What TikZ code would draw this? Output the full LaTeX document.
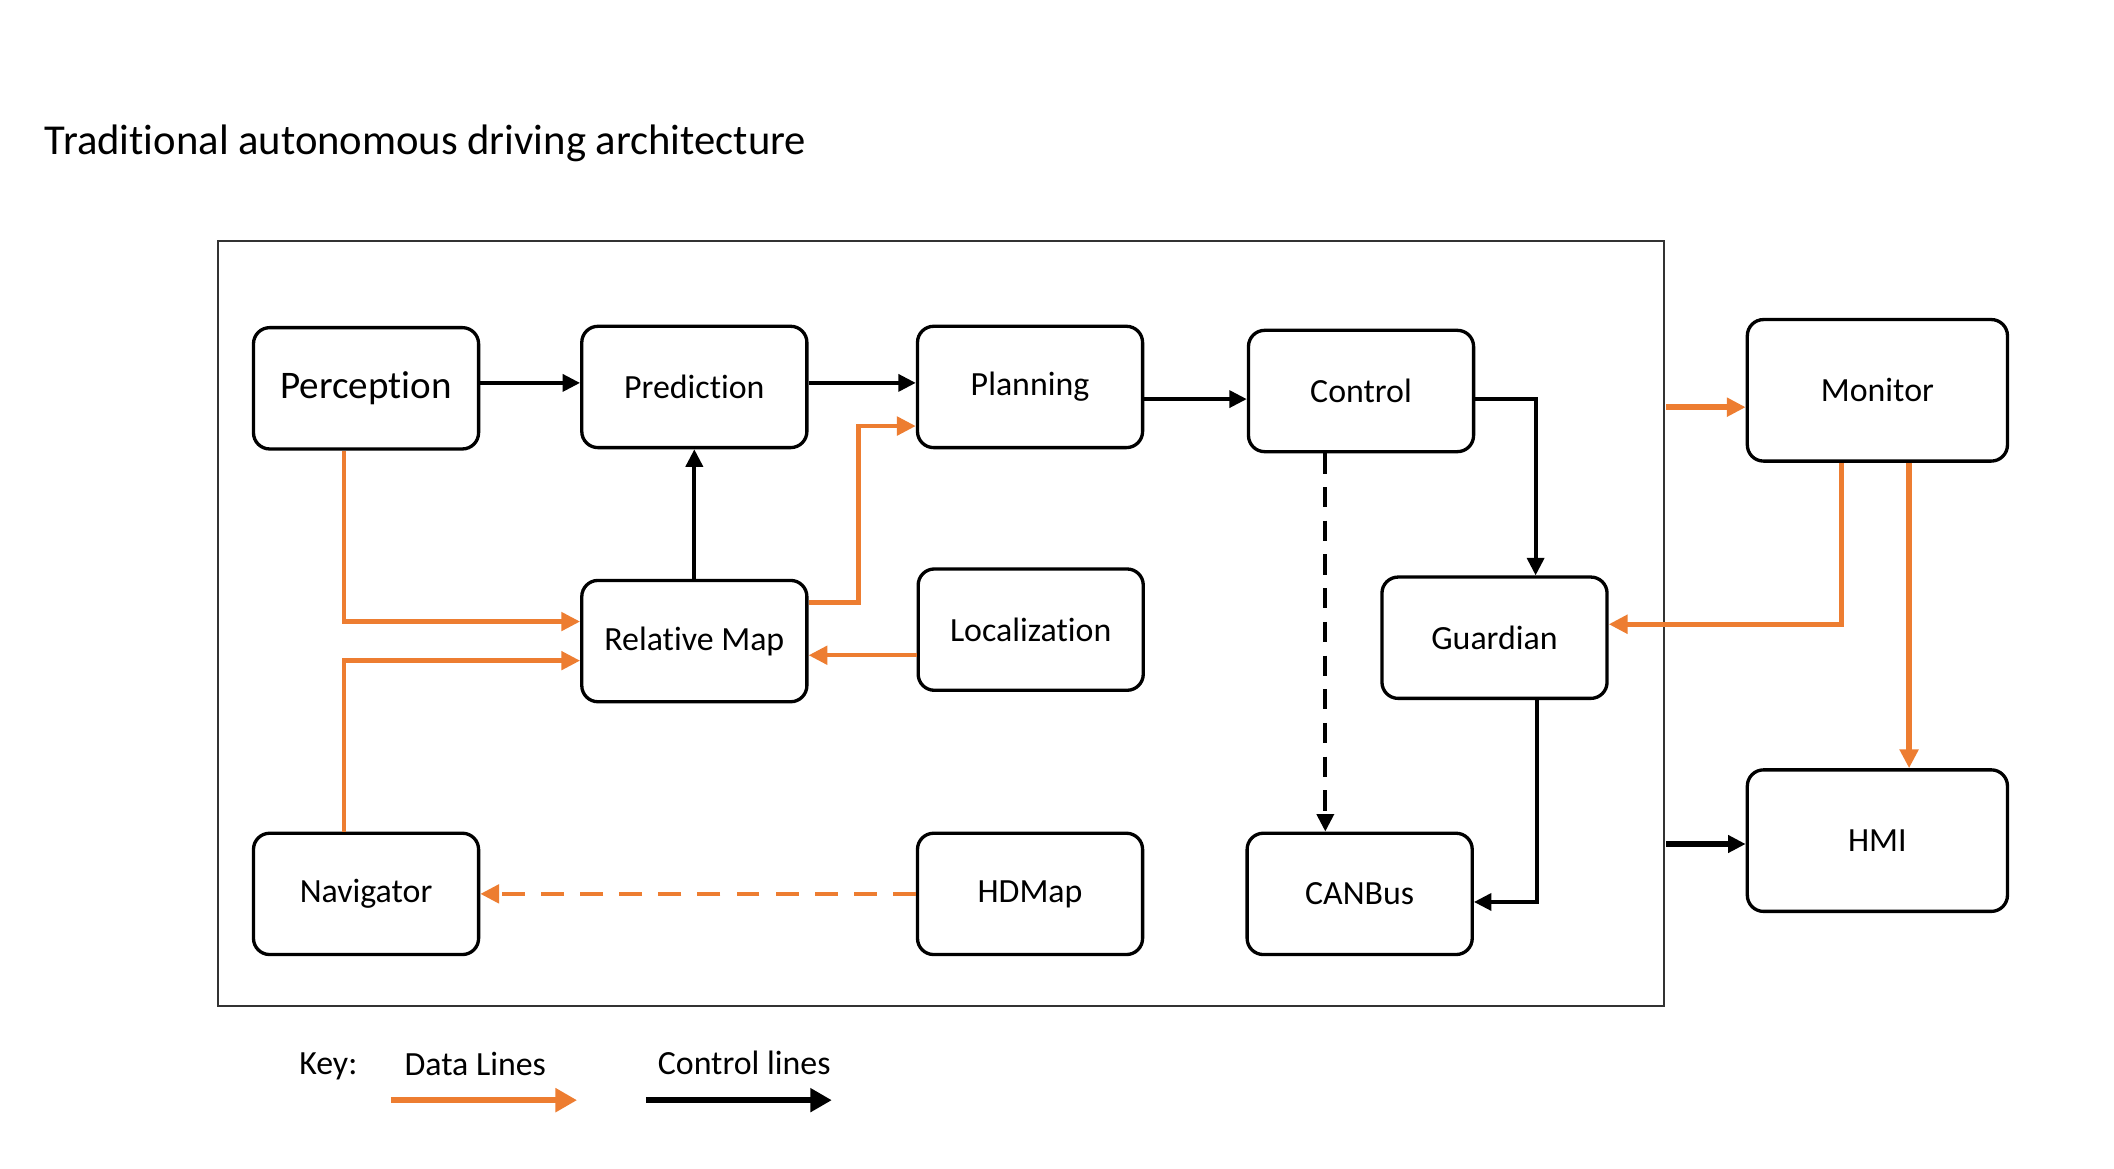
\documentclass[tikz,border=0pt]{standalone}
\usepackage{fontspec}
\setmainfont{Carlito}[Ligatures=NoCommon]
\usepackage{tikz}
\usepackage{xcolor}
\usetikzlibrary{arrows.meta}
\definecolor{dataorange}{HTML}{ED7D31}
% keeps Carlito from joining "ti"
\newcommand{\nolig}{\kern0pt{}}

\begin{document}
\begin{tikzpicture}[x=0.02cm,y=-0.02cm,
  blk/.style={draw=black,line width=1.4pt,rounded corners=0.24cm,fill=white,
    minimum width=3.34cm,minimum height=1.8cm,font=\fontsize{14.3}{17}\selectfont},
  bigblk/.style={blk,minimum width=3.86cm,minimum height=2.1cm},
  ctl/.style={draw=black,line width=1.7pt,-{Triangle[length=0.26cm,width=0.25cm]}},
  dat/.style={draw=dataorange,line width=1.9pt,-{Triangle[length=0.28cm,width=0.27cm]}},
  lbl/.style={font=\fontsize{14.3}{17}\selectfont,inner sep=0pt}]
\useasboundingbox (0,0) rectangle (1568,867);
\fill[white] (0,0) rectangle (1568,867);

% title and frame
\node[anchor=west,inner sep=0pt,font=\fontsize{18}{21}\selectfont] (title) at (33,106) {Tradit\nolig ional autonomous driving architecture};
\draw[line width=0.85pt,black!80] (162,179) rectangle (1234,746);

% blocks
\node[blk,font=\fontsize{16.5}{19}\selectfont] (perc) at (271.5,288) {Percept\nolig ion};
\node[blk] (pred) at (515,287) {Predict\nolig ion};
\node[blk] (plan) at (764,287) {Planning};
\node[blk] (ctrl) at (1009.5,290) {Control};
\node[blk] (relmap) at (515,475.5) {Relat\nolig ive Map};
\node[blk] (loc) at (764.5,467) {Localizat\nolig ion};
\node[blk] (guard) at (1108.5,473) {Guardian};
\node[blk] (nav) at (271.5,663) {Navigator};
\node[blk] (hdmap) at (764,663) {HDMap};
\node[blk] (canbus) at (1008.5,663) {CANBus};
\node[bigblk] (mon) at (1392.5,289.5) {Monitor};
\node[bigblk] (hmi) at (1392.5,623.5) {HMI};

% control lines
\draw[ctl] ([yshift=0.08cm]perc.east) -- ([yshift=0.08cm]perc.east -| pred.west);
\draw[ctl] ([yshift=0.06cm]pred.east) -- ([yshift=0.06cm]pred.east -| plan.west);
\draw[ctl] ([yshift=-0.18cm]plan.east) -- ([yshift=-0.18cm]plan.east -| ctrl.west);
\draw[ctl] ([yshift=-0.12cm]ctrl.east) -| ([xshift=0.61cm]guard.north);
\draw[ctl,dashed,dash pattern=on 0.3cm off 0.2cm] ([xshift=-0.53cm]ctrl.south) -- ([xshift=-0.53cm]ctrl.south |- canbus.north);
\draw[ctl] ([xshift=0.63cm]guard.south) |- ([yshift=-0.12cm]canbus.east);
\draw[ctl] (relmap.north) -- (pred.south);

% data lines
\draw[dat] ([xshift=-0.33cm]perc.south) |- ([yshift=0.29cm]relmap.west);
\draw[dat] ([xshift=-0.33cm]nav.north) |- ([yshift=-0.29cm]relmap.west);
\draw[dat] ([yshift=0.57cm]relmap.east) -- ++(37,0) |- ([yshift=-0.58cm]plan.west);
\draw[dat] ([yshift=-0.38cm]loc.west) -- ([yshift=-0.38cm]loc.west -| relmap.east);
\draw[dat,dash pattern=on 0.34cm off 0.24cm] (hdmap.west) -- (nav.east);
\draw[dat,line width=2.2pt] ([xshift=-0.53cm]mon.south) |- ([yshift=0.2cm]guard.east);
\draw[dat,line width=2.2pt] ([xshift=0.47cm]mon.south) -- ([xshift=0.47cm]mon.south |- hmi.north);

% inputs from outside the frame
\coordinate (monin) at (1236,302);
\coordinate (hmiin) at (1236,626);
\draw[dat,line width=2.4pt] (monin) -- (monin -| mon.west);
\draw[ctl,line width=2.6pt] (hmiin) -- (hmiin -| hmi.west);

% key
\node[lbl] (key) at (243.5,791) {Key:};
\node[lbl] (datakey) at (352.5,789) {Data Lines};
\node[lbl] (ctlkey) at (552,788) {Control lines};
\coordinate (dataA) at (290,816);
\coordinate (dataB) at (428,816);
\coordinate (ctlA) at (479,816);
\coordinate (ctlB) at (617,816);
\draw[dataorange,line width=2.8pt,-{Triangle[length=0.32cm,width=0.34cm]}] (dataA) -- (dataB);
\draw[black,line width=2.8pt,-{Triangle[length=0.32cm,width=0.34cm]}] (ctlA) -- (ctlB);
\end{tikzpicture}
\end{document}
